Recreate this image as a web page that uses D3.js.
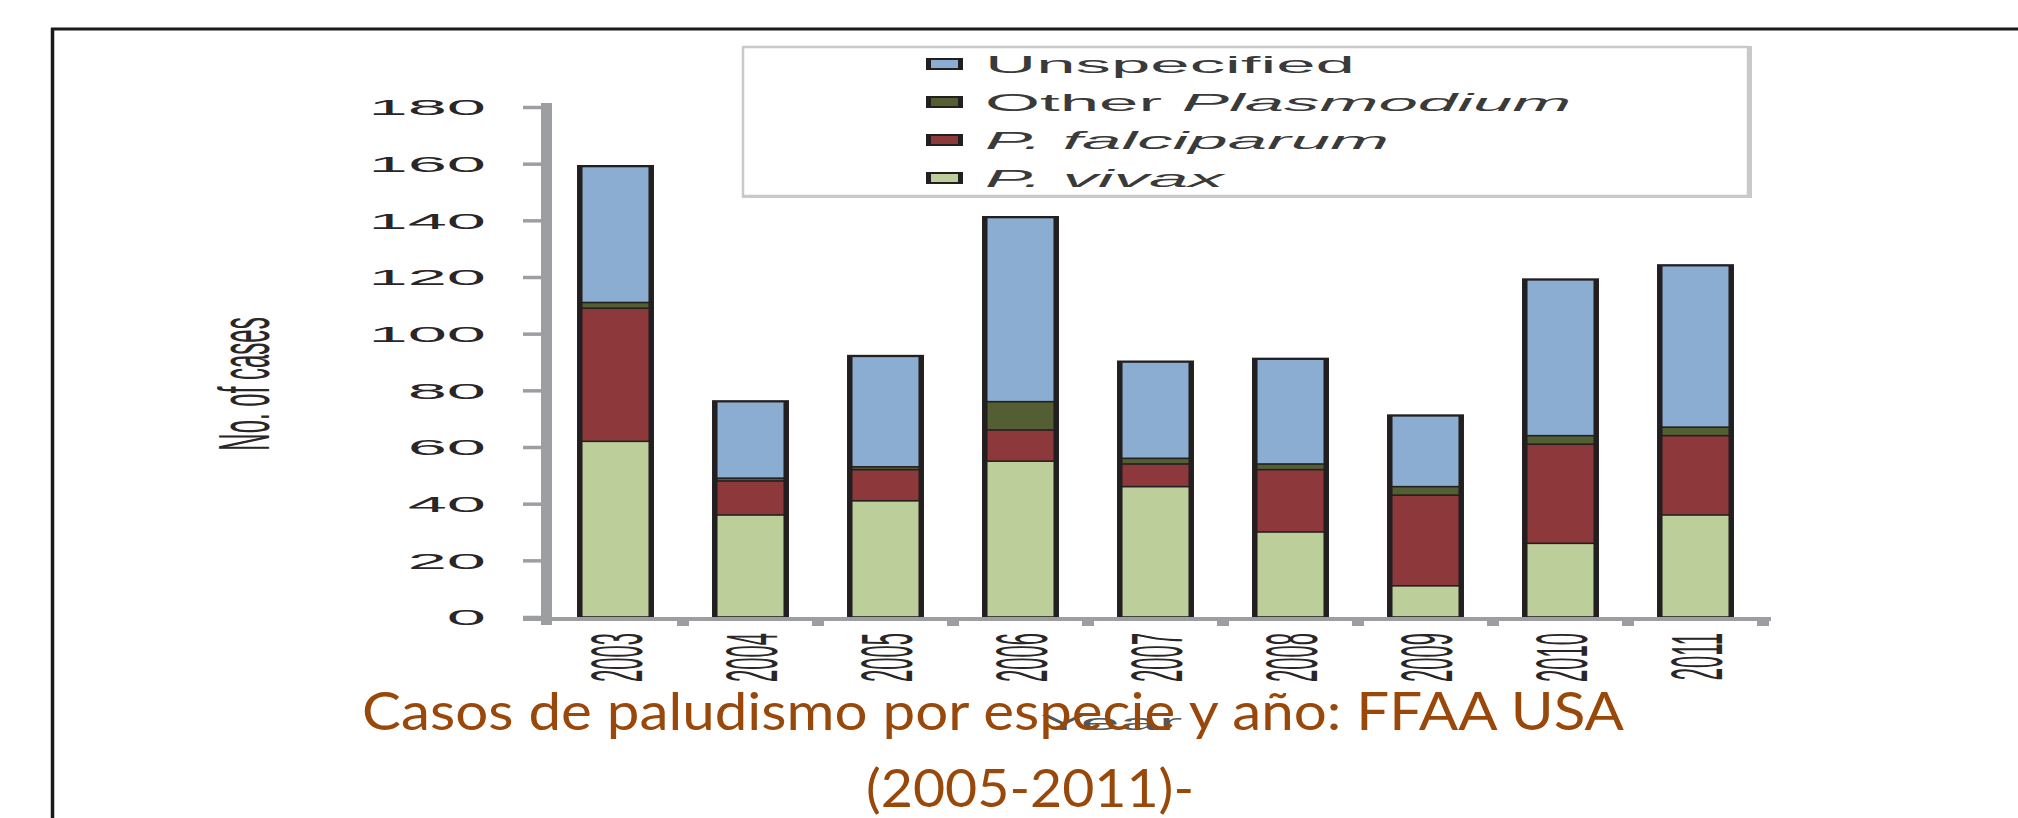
<!DOCTYPE html>
<html>
<head>
<meta charset="utf-8">
<script src="https://cdn.jsdelivr.net/npm/d3@7/dist/d3.min.js"></script>
<style>
  body { margin: 0; background: #fff; }
  svg { display: block; }
  .axisText { font-family: "Liberation Sans", Arial, sans-serif; font-size: 22px; fill: #2a2627; }
  .legendText { font-family: "Liberation Sans", Arial, sans-serif; font-size: 24px; fill: #3a3a3a; }
  .title { font-family: Lato, "Open Sans", sans-serif; font-size: 53px; fill: #9a480a; }
</style>
</head>
<body>
<div class="chart"></div>
<script>
// Stacked bars: malaria cases by species and year

// data
var years = ["2003", "2004", "2005", "2006", "2007", "2008", "2009", "2010", "2011"];
var vivax = [62, 36, 41, 55, 46, 30, 11, 26, 36];
var falciparum = [47, 12, 11, 11, 8, 22, 32, 35, 28];
var otherPlasmodium = [2, 1, 1, 10, 2, 2, 3, 3, 3];
var unspecified = [48, 27, 39, 65, 34, 37, 25, 55, 57];
var yTicks = [0, 20, 40, 60, 80, 100, 120, 140, 160, 180];

var seriesKeys = ["vivax", "falciparum", "other", "unspecified"];
var seriesColors = { vivax: "#bccf9b", falciparum: "#8d393c", other: "#535f33", unspecified: "#8badd2" };

// the original graphic is stretched sideways, so the text is too
var stretch = 3.2;

var svgWidth = 2018;
var svgHeight = 818;

var svg = d3.select(".chart")
    .append("svg")
    .attr("width", svgWidth)
    .attr("height", svgHeight);

// rows for the stack
var rows = years.map(function(year, i) {
    return { year: year, vivax: vivax[i], falciparum: falciparum[i], other: otherPlasmodium[i], unspecified: unspecified[i] };
});
var stacked = d3.stack().keys(seriesKeys)(rows);

// scales
var xBandScale = d3.scaleBand()
    .domain(years)
    .range([548, 1763])
    .paddingInner(0.43)
    .paddingOuter(0.215);

var yLinearScale = d3.scaleLinear()
    .domain([0, 180])
    .range([617, 107]);

// slide frame
svg.append("line")
    .attr("x1", 51).attr("x2", svgWidth)
    .attr("y1", 29).attr("y2", 29)
    .attr("stroke", "#1a1a1a").attr("stroke-width", 3);
svg.append("line")
    .attr("x1", 52.5).attr("x2", 52.5)
    .attr("y1", 28).attr("y2", svgHeight)
    .attr("stroke", "#1a1a1a").attr("stroke-width", 3.5);

// x axis title (mostly hidden by the slide title)
svg.append("text")
    .attr("class", "axisText")
    .attr("transform", "translate(1111,730) scale(" + stretch + ",1)")
    .attr("text-anchor", "middle")
    .style("fill", "#555")
    .text("Year");

// y axis title
svg.append("text")
    .attr("class", "axisText")
    .attr("transform", "translate(269,384) rotate(-90) scale(1,3.0)")
    .attr("text-anchor", "middle")
    .style("font-size", "24px")
    .text("No. of cases");

// bar outlines in black, fills inset so the black shows as edges
var bars = svg.append("g");

bars.selectAll(".outline")
    .data(rows)
    .enter().append("rect")
    .attr("class", "outline")
    .attr("x", function(d) { return xBandScale(d.year); })
    .attr("width", xBandScale.bandwidth())
    .attr("y", function(d) { return yLinearScale(d.vivax + d.falciparum + d.other + d.unspecified) - 1.5; })
    .attr("height", function(d) { return yLinearScale(0) - yLinearScale(d.vivax + d.falciparum + d.other + d.unspecified) + 1.5; })
    .attr("fill", "#231f20");

bars.selectAll(".series")
    .data(stacked)
    .enter().append("g")
    .attr("fill", function(s) { return seriesColors[s.key]; })
    .selectAll("rect")
    .data(function(s) { return s.filter(function(seg) { return seg[1] > seg[0]; }); })
    .enter().append("rect")
    .attr("x", function(seg) { return xBandScale(seg.data.year) + 5.5; })
    .attr("width", xBandScale.bandwidth() - 11)
    .attr("y", function(seg) { return yLinearScale(seg[1]) + 0.8; })
    .attr("height", function(seg) { return Math.max(0.8, yLinearScale(seg[0]) - yLinearScale(seg[1]) - 1.6); });

// y axis
var leftAxis = d3.axisLeft(yLinearScale)
    .tickValues(yTicks)
    .tickSize(18)
    .tickFormat(d3.format("d"));

var yAxis = svg.append("g")
    .attr("transform", "translate(541,0)")
    .call(leftAxis);

yAxis.select(".domain").remove();
yAxis.selectAll(".tick line")
    .attr("stroke", "#9d9ea2")
    .attr("stroke-width", 3.5);
yAxis.selectAll(".tick text")
    .attr("class", "axisText")
    .attr("x", 0)
    .attr("dy", "0.36em")
    .attr("transform", "translate(-55,0) scale(" + stretch + ",1)")
    .style("font-size", "22px")
    .style("font-family", null);

svg.append("rect")
    .attr("x", 541).attr("y", 103)
    .attr("width", 11).attr("height", 522)
    .attr("fill", "#9d9ea2");

// x axis line and the little ticks between categories
svg.append("rect")
    .attr("x", 523).attr("y", 617)
    .attr("width", 1771 - 523).attr("height", 4)
    .attr("fill", "#9d9ea2");

svg.selectAll(".xtick")
    .data(years)
    .enter().append("rect")
    .attr("class", "xtick")
    .attr("x", function(d) { return xBandScale(d) + xBandScale.bandwidth() / 2 + xBandScale.step() / 2 - 6; })
    .attr("y", 620)
    .attr("width", 12).attr("height", 6)
    .attr("fill", "#9d9ea2");

var bottomAxis = d3.axisBottom(xBandScale).tickSize(0);

var xAxis = svg.append("g")
    .attr("transform", "translate(0,617)")
    .call(bottomAxis);

xAxis.select(".domain").remove();
xAxis.selectAll(".tick text")
    .attr("class", "axisText")
    .attr("y", 0)
    .attr("dy", "0.36em")
    .attr("transform", "translate(0,16) rotate(-90) scale(1," + (stretch + 0.1) + ")")
    .style("text-anchor", "end")
    .style("font-size", "22px")
    .style("font-family", null);

// legend
var legendBox = svg.append("g");
legendBox.append("rect")
    .attr("x", 743).attr("y", 47)
    .attr("width", 1005).attr("height", 149)
    .attr("fill", "#fff")
    .attr("stroke", "#c8c9ca").attr("stroke-width", 2.5);
legendBox.append("line")
    .attr("x1", 1749.5).attr("x2", 1749.5).attr("y1", 46).attr("y2", 198)
    .attr("stroke", "#c8c9ca").attr("stroke-width", 5);
legendBox.append("line")
    .attr("x1", 742).attr("x2", 1752).attr("y1", 196.5).attr("y2", 196.5)
    .attr("stroke", "#c8c9ca").attr("stroke-width", 3);

var legendOrder = ["unspecified", "other", "falciparum", "vivax"];
var legendY = d3.scalePoint().domain(legendOrder).range([64, 178]);

var legendItem = legendBox.selectAll(".legendItem")
    .data(legendOrder)
    .enter().append("g")
    .attr("transform", function(d) { return "translate(926," + legendY(d) + ")"; });

legendItem.append("rect")
    .attr("x", 0).attr("y", -6)
    .attr("width", 37).attr("height", 12)
    .attr("fill", "#231f20");
legendItem.append("rect")
    .attr("x", 5).attr("y", -4)
    .attr("width", 27).attr("height", 8)
    .attr("fill", function(d) { return seriesColors[d]; });

var legendText = legendItem.append("text")
    .attr("class", "legendText")
    .attr("dy", "0.36em")
    .attr("transform", "translate(59,0) scale(" + (stretch - 0.25) + ",1)");

legendText.each(function(d) {
    var t = d3.select(this);
    if (d === "unspecified") {
        t.text("Unspecified");
    } else if (d === "other") {
        t.append("tspan").text("Other ");
        t.append("tspan").style("font-style", "italic").text("Plasmodium");
    } else if (d === "falciparum") {
        t.append("tspan").style("font-style", "italic").text("P. falciparum");
    } else {
        t.append("tspan").style("font-style", "italic").text("P. vivax");
    }
});

// slide title over the chart
svg.append("text")
    .attr("class", "title")
    .attr("x", 362).attr("y", 730)
    .attr("textLength", 1262)
    .attr("lengthAdjust", "spacingAndGlyphs")
    .text("Casos de paludismo por especie y año: FFAA USA");

svg.append("text")
    .attr("class", "title")
    .attr("x", 866).attr("y", 807)
    .attr("textLength", 328)
    .attr("lengthAdjust", "spacingAndGlyphs")
    .text("(2005-2011)-");
</script>
</body>
</html>
